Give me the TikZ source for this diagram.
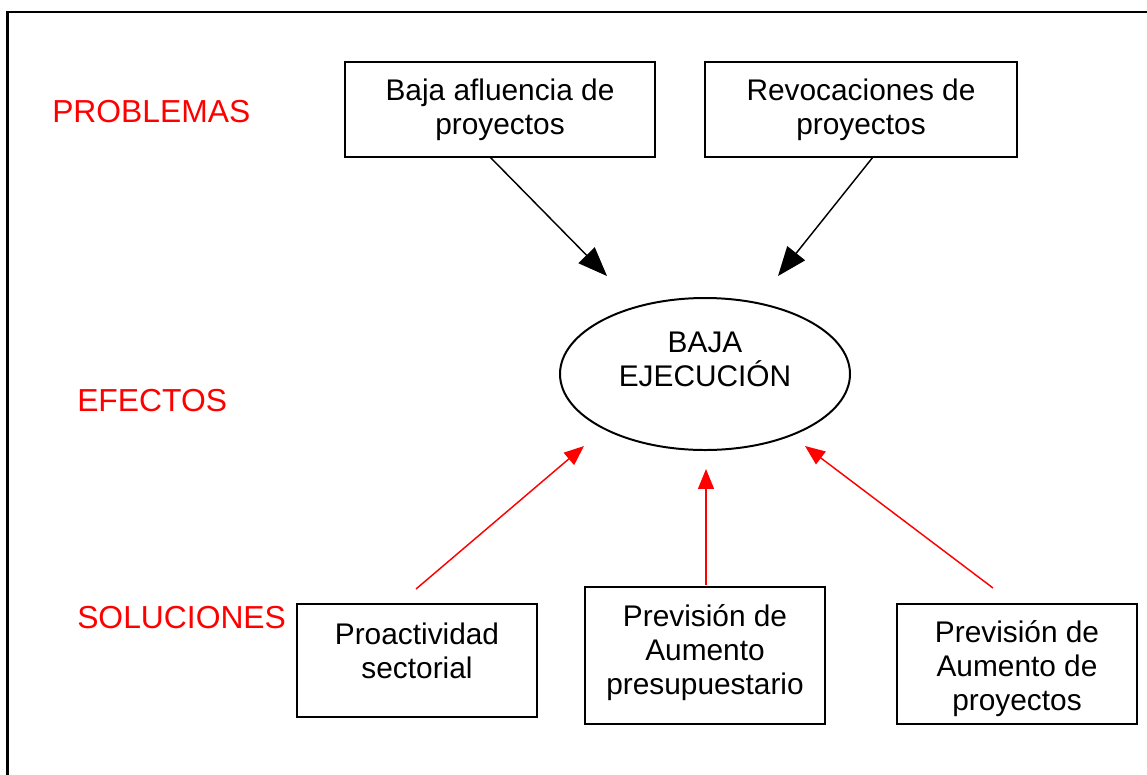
\documentclass[tikz,border=0pt]{standalone}
\usepackage{fontspec}
\setmainfont{Liberation Sans}
\usetikzlibrary{arrows.meta,shapes.geometric}
\begin{document}
\begin{tikzpicture}[x=0.0265cm,y=-0.0265cm,
  every node/.style={font=\fontsize{22.5}{25.6}\selectfont},
  boxnode/.style={draw,line width=1.5pt,align=center,inner sep=0pt},
  txt/.style={align=center,inner sep=0pt},
  lbl/.style={text=red,anchor=west,inner sep=0pt,font=\fontsize{24}{28}\selectfont},
  blackarrow/.style={line width=1.1pt,-{Triangle[length=22pt,width=17pt]}},
  redarrow/.style={red,line width=1.1pt,-{Triangle[length=15pt,width=12pt]}}]
\useasboundingbox (0,0) rectangle (1147,774);
\draw[line width=1.6pt] (7.5,790) -- (7.5,12) -- (1160,12);
% problem boxes
\node[boxnode,minimum width={310*0.0265cm},minimum height={95*0.0265cm}] (b1) at (500,109.5) {Baja afluencia de\\proyectos};
\node[boxnode,minimum width={312*0.0265cm},minimum height={95*0.0265cm}] (b2) at (861,109.5) {Revocaciones de\\proyectos};
% ellipse
\node[draw,ellipse,line width=1.5pt,minimum width={290*0.0265cm},minimum height={152*0.0265cm},inner sep=0pt] (e) at (705,374) {};
\node[txt] (et) at (705,359) {BAJA\\EJECUCIÓN};
% solution boxes
\node[boxnode,minimum width={240*0.0265cm},minimum height={113*0.0265cm}] (s1) at (417,660.5) {};
\node[txt] (s1t) at (417,650.5) {Proactividad\\sectorial};
\node[boxnode,minimum width={240*0.0265cm},minimum height={137*0.0265cm}] (s2) at (705,655.5) {};
\node[txt] (s2t) at (705,652.5) {Previsión de\\Aumento\\presupuestario};
\node[boxnode,minimum width={240*0.0265cm},minimum height={120*0.0265cm}] (s3) at (1017,664) {};
\node[txt] (s3t) at (1017,669) {Previsión de\\Aumento de\\proyectos};
% labels
\node[lbl] (p) at (52,112) {PROBLEMAS};
\node[lbl] (ef) at (77,401) {EFECTOS};
\node[lbl] (so) at (77,618) {SOLUCIONES};
% arrows
\coordinate (a1s) at (490,157); \coordinate (a1e) at (607,276);
\coordinate (a2s) at (873,157); \coordinate (a2e) at (778,276);
\draw[blackarrow] (a1s) -- (a1e);
\draw[blackarrow] (a2s) -- (a2e);
\coordinate (r1s) at (416,589); \coordinate (r1e) at (584,446);
\coordinate (r2s) at (706,585); \coordinate (r2e) at (706,469);
\coordinate (r3s) at (993,588); \coordinate (r3e) at (805,446);
\draw[redarrow] (r1s) -- (r1e);
\draw[redarrow] (r2s) -- (r2e);
\draw[redarrow] (r3s) -- (r3e);
\end{tikzpicture}
\end{document}
